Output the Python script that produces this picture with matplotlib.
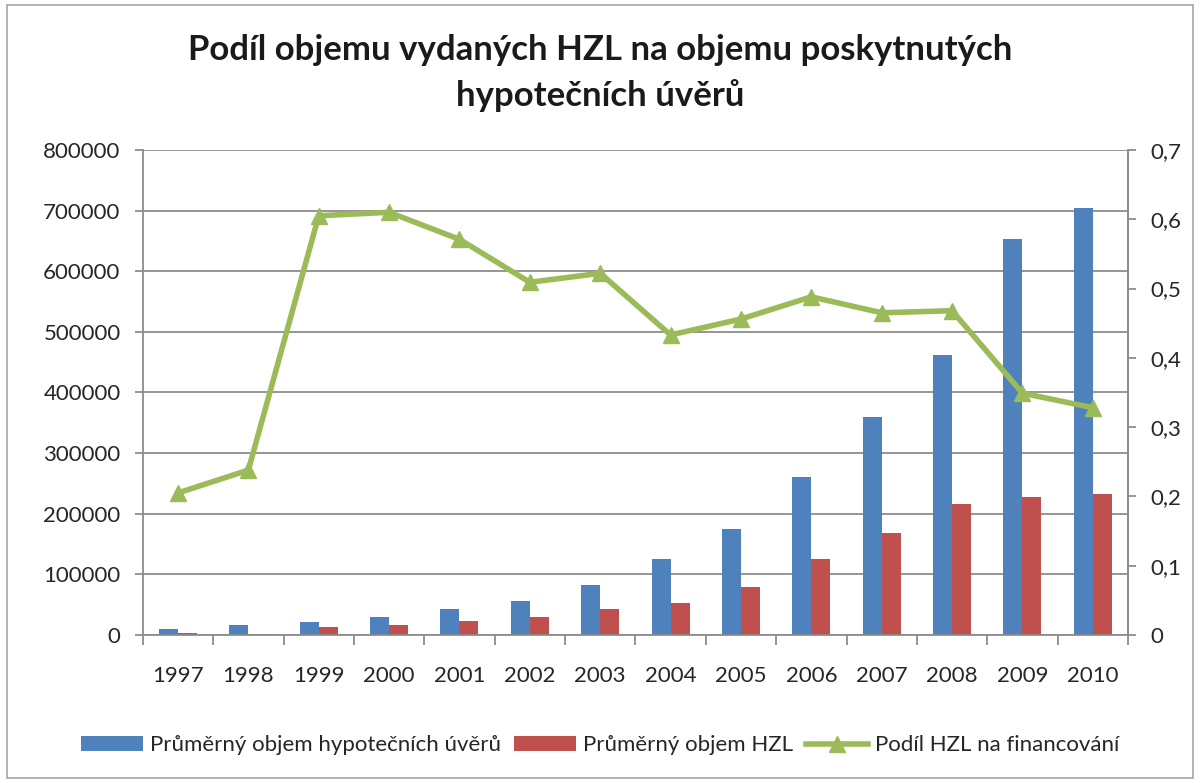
import numpy as np
import matplotlib.pyplot as plt
from matplotlib.ticker import FuncFormatter
from matplotlib.patches import Rectangle

plt.rcParams['font.family'] = ['Lato', 'DejaVu Sans']

years = ["1997", "1998", "1999", "2000", "2001", "2002", "2003",
         "2004", "2005", "2006", "2007", "2008", "2009", "2010"]
uvery = [10000, 16000, 21000, 30000, 43000, 56000, 83000,
         125000, 175000, 261000, 360000, 462000, 653000, 705000]
hzl = [3000, 2000, 13000, 17000, 23000, 30000, 43000,
       53000, 79000, 125000, 168000, 216000, 228000, 232000]
podil = [0.205, 0.238, 0.605, 0.610, 0.571, 0.509, 0.522,
         0.433, 0.456, 0.488, 0.465, 0.468, 0.349, 0.328]

BLUE = "#4F81BD"
RED = "#C0504D"
GREEN = "#9BBB59"
GRID = "#8C8C8C"
TXT = "#262626"
FS = 16

fig = plt.figure(figsize=(12, 7.83), dpi=100)
fig.patches.append(Rectangle((0.006, 0.006), 0.988, 0.988, transform=fig.transFigure,
                             fill=False, edgecolor="#A6A6A6", linewidth=1.2))

ax = fig.add_axes([0.119, 0.189, 0.821, 0.6195])
x = np.arange(len(years))
w = 0.27
b1 = ax.bar(x - w / 2, uvery, w, color=BLUE, label="Průměrný objem hypotečních úvěrů", zorder=2)
b2 = ax.bar(x + w / 2, hzl, w, color=RED, label="Průměrný objem HZL", zorder=2)

ax.set_xlim(-0.5, len(years) - 0.5)
ax.set_ylim(0, 800000)
ax.set_yticks(np.arange(0, 800001, 100000))
ax.yaxis.grid(True, color=GRID, linewidth=1.3, zorder=0)
ax.set_axisbelow(True)

ax.set_xticks(x)
ax.set_xticklabels(years)
ax.set_xticks(np.arange(-0.5, len(years), 1), minor=True)
ax.tick_params(axis="x", which="major", length=0, pad=22, labelsize=FS, labelcolor=TXT)
ax.tick_params(axis="x", which="minor", length=7, width=1.3, color=GRID, direction="out")
ax.tick_params(axis="y", length=6, width=1.3, color=GRID, labelsize=FS, labelcolor=TXT, pad=10)

ax.spines["top"].set_visible(False)
for s in ["left", "bottom", "right"]:
    ax.spines[s].set_color(GRID)
    ax.spines[s].set_linewidth(1.3)

ax2 = ax.twinx()
ln, = ax2.plot(x, podil, color=GREEN, linewidth=4, marker="^", markersize=11,
               label="Podíl HZL na financování", zorder=3)
ax2.set_ylim(0, 0.7)
ax2.set_yticks(np.arange(0, 0.71, 0.1))
ax2.yaxis.set_major_formatter(FuncFormatter(
    lambda v, p: "0" if abs(v) < 1e-9 else f"{v:.1f}".replace(".", ",")))
ax2.tick_params(axis="y", length=6, width=1.3, color=GRID, labelsize=FS, labelcolor=TXT, pad=10)
for s in ["top", "left", "bottom"]:
    ax2.spines[s].set_visible(False)
ax2.spines["right"].set_color(GRID)
ax2.spines["right"].set_linewidth(1.3)

fig.text(0.5, 0.907, "Podíl objemu vydaných HZL na objemu poskytnutých\nhypotečních úvěrů",
         ha="center", va="center", fontsize=25, fontweight="bold", color="#1a1a1a",
         linespacing=1.5)

fig.legend([b1, b2, ln], [b1.get_label(), b2.get_label(), ln.get_label()],
           loc="center", bbox_to_anchor=(0.5, 0.048), ncol=3, frameon=False,
           fontsize=FS, handlelength=2.8, handletextpad=0.3, columnspacing=0.6,
           labelcolor=TXT)

fig.savefig("out.png", dpi=100)
